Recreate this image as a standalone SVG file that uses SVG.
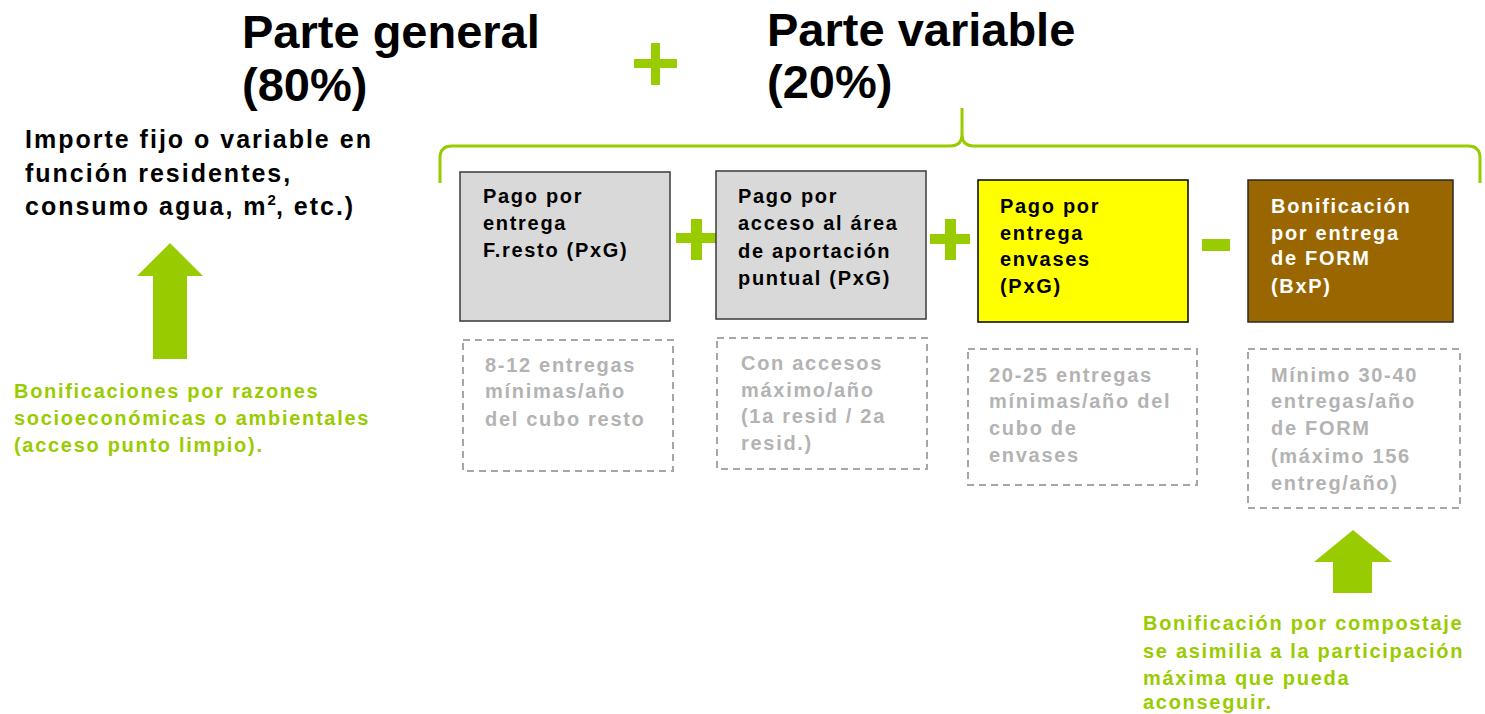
<svg xmlns="http://www.w3.org/2000/svg" width="1485" height="714" viewBox="0 0 1485 714">
<style>
text{font-family:"Liberation Sans",Arial,sans-serif;font-weight:bold}
.h{font-size:47px;fill:#000}
.imp{font-size:25px;letter-spacing:2px;fill:#000}
.bx{font-size:20px;letter-spacing:1.7px;fill:#000}
.wt{fill:#fff}
.dt{font-size:20px;letter-spacing:1.7px;fill:#b3b3b3}
.gt{font-size:20px;letter-spacing:1.7px;fill:#99cc00}
.grey{fill:#d9d9d9;stroke:#3a3a3a;stroke-width:1.5}
.dash{fill:none;stroke:#a6a6a6;stroke-width:2;stroke-dasharray:7 5}
.op{fill:#99cc00}
.arr{fill:#99cc00}
</style>
<rect width="1485" height="714" fill="#fff"/>

<g id="title-general">
<text class="h" x="242" y="48">Parte general</text>
<text class="h" x="242" y="101">(80%)</text>
</g>
<g id="title-variable">
<text class="h" x="767" y="46">Parte variable</text>
<text class="h" x="767" y="98">(20%)</text>
</g>
<g id="op-main">
<rect class="op" x="634" y="59" width="43" height="9"/>
<rect class="op" x="651" y="43" width="9" height="42"/>
</g>

<g id="general-desc">
<text class="imp" x="25" y="148">Importe fijo o variable en</text>
<text class="imp" x="25" y="182">función residentes,</text>
<text class="imp" x="25" y="215">consumo agua, m<tspan font-size="15" dy="-10" letter-spacing="0">2</tspan><tspan dy="10">, etc.)</tspan></text>
</g>

<g id="connectors">
<path d="M440,183 L440,158 Q440,146 452,146 L950,146 Q962,146 962,134 L962,108 M962,134 Q962,146 974,146 L1468,146 Q1480,146 1480,158 L1480,183" fill="none" stroke="#99cc00" stroke-width="3"/>
<polygon class="arr" points="170,243 203,276 187,276 187,359 153,359 153,276 137,276"/>
<polygon class="arr" points="1353,530 1392,562 1372,562 1372,593 1333,593 1333,562 1314,562"/>
</g>

<g id="node-fresto">
<rect class="grey" x="460" y="172" width="210" height="149"/>
<text class="bx" x="483" y="203">Pago por</text>
<text class="bx" x="483" y="230">entrega</text>
<text class="bx" x="483" y="257">F.resto (PxG)</text>
</g>
<g id="op-plus-1">
<rect class="op" x="676" y="233" width="41" height="10"/>
<rect class="op" x="691" y="219" width="11" height="41"/>
</g>
<g id="node-acceso">
<rect class="grey" x="716" y="171" width="210" height="148"/>
<text class="bx" x="738" y="203">Pago por</text>
<text class="bx" x="738" y="230">acceso al área</text>
<text class="bx" x="738" y="258">de aportación</text>
<text class="bx" x="738" y="285">puntual (PxG)</text>
</g>
<g id="op-plus-2">
<rect class="op" x="930" y="234" width="40" height="10"/>
<rect class="op" x="945" y="219" width="11" height="41"/>
</g>
<g id="node-envases">
<rect x="978" y="180" width="210" height="142" fill="#ffff00" stroke="#000" stroke-width="1.5"/>
<text class="bx" x="1000" y="213">Pago por</text>
<text class="bx" x="1000" y="240">entrega</text>
<text class="bx" x="1000" y="266">envases</text>
<text class="bx" x="1000" y="293">(PxG)</text>
</g>
<g id="op-minus">
<rect class="op" x="1202" y="239" width="28" height="12"/>
</g>
<g id="node-form">
<rect x="1248" y="180" width="205" height="142" fill="#996600" stroke="#2a2a2a" stroke-width="1.5"/>
<text class="bx wt" x="1271" y="213">Bonificación</text>
<text class="bx wt" x="1271" y="240">por entrega</text>
<text class="bx wt" x="1271" y="265">de FORM</text>
<text class="bx wt" x="1271" y="293">(BxP)</text>
</g>

<g id="note-fresto">
<rect class="dash" x="463" y="340" width="210" height="131"/>
<text class="dt" x="485" y="372">8-12 entregas</text>
<text class="dt" x="485" y="398">mínimas/año</text>
<text class="dt" x="485" y="426">del cubo resto</text>
</g>
<g id="note-acceso">
<rect class="dash" x="717" y="338" width="210" height="131"/>
<text class="dt" x="741" y="370">Con accesos</text>
<text class="dt" x="741" y="397">máximo/año</text>
<text class="dt" x="741" y="423">(1a resid / 2a</text>
<text class="dt" x="741" y="450">resid.)</text>
</g>
<g id="note-envases">
<rect class="dash" x="968" y="349" width="229" height="136"/>
<text class="dt" x="989" y="382">20-25 entregas</text>
<text class="dt" x="989" y="408">mínimas/año del</text>
<text class="dt" x="989" y="435">cubo de</text>
<text class="dt" x="989" y="462">envases</text>
</g>
<g id="note-form">
<rect class="dash" x="1248" y="349" width="212" height="159"/>
<text class="dt" x="1271" y="382">Mínimo 30-40</text>
<text class="dt" x="1271" y="408">entregas/año</text>
<text class="dt" x="1271" y="435">de FORM</text>
<text class="dt" x="1271" y="463">(máximo 156</text>
<text class="dt" x="1271" y="490">entreg/año)</text>
</g>

<g id="note-bonif-left">
<text class="gt" x="14" y="398">Bonificaciones por razones</text>
<text class="gt" x="14" y="425">socioeconómicas o ambientales</text>
<text class="gt" x="14" y="452">(acceso punto limpio).</text>
</g>
<g id="note-bonif-right">
<text class="gt" x="1143" y="630">Bonificación por compostaje</text>
<text class="gt" x="1143" y="658">se asimilia a la participación</text>
<text class="gt" x="1143" y="685">máxima que pueda</text>
<text class="gt" x="1143" y="709">aconseguir.</text>
</g>
</svg>
